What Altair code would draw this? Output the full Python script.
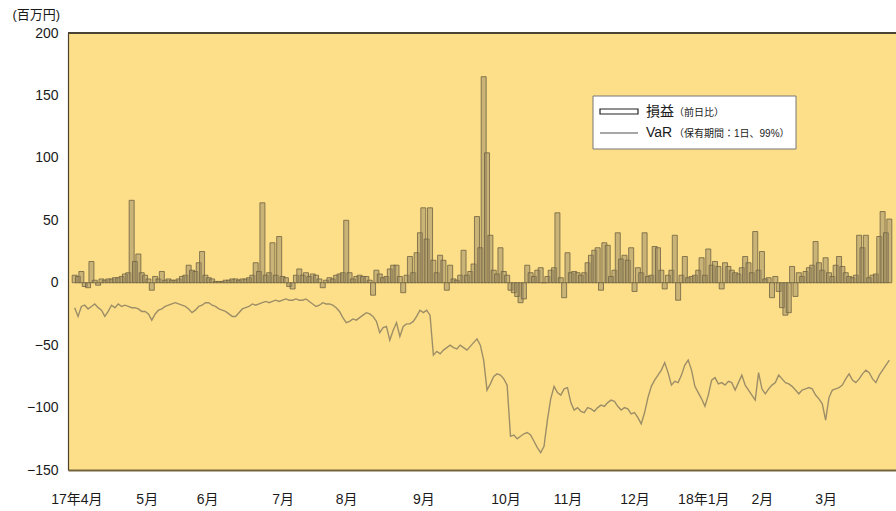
import altair as alt
import pandas as pd

# Daily trading P&L (前日比), million yen, FY2017 business days
pl = [
    6, 5, 9, -3, -4, 17, 2, -2, 3, 2,
    3, 3, 4, 4, 5, 7, 8, 66, 17, 23,
    8, 6, 3, -6, 5, 3, 9, 2, 3, 2,
    2, 3, 5, 6, 14, 10, 9, 16, 25, 6,
    4, 3, 1, 1, 1, 2, 2, 3, 3, 2,
    3, 3, 4, 6, 16, 9, 64, 6, 8, 32,
    6, 37, 5, 4, -3, -5, 6, 11, 6, 8,
    5, 7, 6, 3, -4, 2, 4, 3, 6, 7,
    8, 50, 8, 3, 5, 6, 5, 5, 2, -10,
    10, 7, 4, 5, 11, 14, 14, 5, -8, 6,
    21, 8, 24, 40, 60, 35, 60, 18, 8, 22,
    18, -6, 14, 3, 2, 6, 26, 6, 9, 15,
    53, 28, 165, 104, 38, 10, 7, 28, 9, 6,
    -6, -8, -11, -16, -13, 14, 8, 5, 10, 12,
    0, 5, 10, 12, 56, 4, -12, 24, 8, 9,
    8, 6, 8, 16, 22, 26, 28, -6, 32, 30,
    5, 10, 40, 19, 22, 18, 28, -7, 12, 8,
    40, 5, 6, 29, 28, 10, -5, 6, 10, 38,
    -14, 6, 21, 4, 5, 6, 10, 20, 6, 27,
    14, 17, 13, -5, 16, 13, 10, 8, 7, 12,
    21, 16, 8, 41, 10, 25, 3, 4, -12, 5,
    -7, -20, -26, -24, 13, -11, 8, 5, 9, 12,
    14, 33, 16, 10, 20, 8, 5, 14, 21, 13,
    8, 5, 4, 6, 38, 28, 38, 4, 6, 7,
    37, 57, 40, 51,
]

# VaR (holding period 1 day, 99%), million yen
var = [
    -20, -27, -19, -18, -21, -19, -17, -20, -22, -27,
    -23, -18, -20, -17, -19, -18, -19, -20, -20, -21,
    -23, -23, -25, -30, -25, -22, -21, -19, -18, -17,
    -16, -17, -18, -19, -21, -24, -22, -19, -18, -16,
    -16, -18, -19, -21, -22, -23, -25, -27, -27, -24,
    -21, -20, -19, -17, -18, -17, -16, -15, -16, -15,
    -14, -15, -14, -13, -14, -14, -13, -14, -14, -13,
    -15, -17, -19, -18, -16, -17, -17, -18, -20, -23,
    -28, -32, -31, -29, -30, -28, -26, -24, -25, -27,
    -31, -40, -36, -35, -46, -38, -32, -43, -35, -33,
    -33, -31, -27, -22, -24, -22, -26, -58, -55, -57,
    -54, -52, -50, -52, -53, -50, -52, -54, -51, -48,
    -45, -50, -62, -86, -81, -75, -73, -74, -77, -82,
    -123, -122, -125, -123, -121, -120, -122, -127, -132, -136,
    -131, -110, -93, -83, -88, -90, -85, -84, -96, -102,
    -100, -103, -104, -100, -101, -103, -100, -98, -99, -96,
    -94, -95, -99, -102, -100, -101, -105, -104, -108, -113,
    -104, -92, -83, -78, -74, -70, -64, -72, -82, -79,
    -80, -74, -66, -62, -70, -83, -88, -93, -99, -90,
    -78, -76, -81, -80, -82, -79, -80, -86, -80, -74,
    -82, -86, -90, -94, -72, -85, -89, -85, -82, -80,
    -74, -77, -80, -81, -83, -86, -89, -86, -85, -84,
    -85, -90, -93, -97, -110, -92, -86, -85, -84, -82,
    -77, -73, -78, -80, -77, -73, -70, -72, -77, -80,
    -74, -70, -66, -62,
]

# Month label positions along the business-day axis
month_pos = [0.5, 21.5, 39.5, 62, 81, 104, 128.5, 147, 167, 187.5, 205, 224]
month_labels = ["17年4月", "5月", "6月", "7月", "8月", "9月",
                "10月", "11月", "12月", "18年1月", "2月", "3月"]

y_ticks = [-150, -100, -50, 0, 50, 100, 150, 200]

FONT = "Liberation Sans, Noto Sans CJK JP, sans-serif"
BG = "#FDDF89"
BAR_FILL = "#9E8E66"
BAR_STROKE = "#6F6243"
LINE_COLOR = "#9D8E67"

df = pd.DataFrame({"day": list(range(len(pl))), "pl": pl, "var": var})

label_expr = ""
for pos, lab in zip(month_pos, month_labels):
    label_expr += f"datum.value == {pos} ? '{lab}' : "
label_expr += "''"

x_enc = alt.X(
    "day:Q",
    scale=alt.Scale(domain=[-0.5, 243.5], nice=False, zero=False),
    axis=alt.Axis(
        values=month_pos, labelExpr=label_expr, ticks=False, grid=False,
        title=None, labelPadding=22, labelFontSize=14, labelColor="#1a1a1a",
        labelFont=FONT, labelFlush=False, labelOverlap=False,
        domainColor="#76643F", domainWidth=1.8,
    ),
)

y_axis = alt.Axis(
    values=y_ticks, ticks=False, grid=False, title="(百万円)",
    titleAngle=0, titleX=-56, titleY=-19, titleAlign="left",
    titleBaseline="middle", titleFontSize=13, titleFontWeight="normal",
    titleFont=FONT, titleColor="#1a1a1a",
    labelPadding=10, labelFontSize=14, labelColor="#1a1a1a", labelFont=FONT,
    domainColor="#4B4232", domainWidth=1.2,
)
y_scale = alt.Scale(domain=[-150, 200], nice=False)

bars = alt.Chart(df).mark_bar(
    width=5, fill=BAR_FILL, fillOpacity=0.55, stroke=BAR_STROKE,
    strokeWidth=0.8, clip=True,
).encode(x=x_enc, y=alt.Y("pl:Q", scale=y_scale, axis=y_axis))

line = alt.Chart(df).mark_line(
    color=LINE_COLOR, strokeWidth=1.4, clip=True,
).encode(x=x_enc, y=alt.Y("var:Q", scale=y_scale, axis=y_axis))

# Frame line along the top of the plot area
top = alt.Chart(df).mark_rule(color="#4B4232", strokeWidth=1).encode(
    y=alt.datum(200), x=alt.value(0), x2=alt.value(828)
)

# Legend box, drawn as its own small layer
one = alt.Data(values=[{"k": 1}])
box = alt.Chart(one).mark_rect(fill="white", stroke="#777777", strokeWidth=1).encode(
    x=alt.value(525), x2=alt.value(728), y=alt.value(63), y2=alt.value(116)
)
sym_bar = alt.Chart(one).mark_rect(fill="white", stroke="#222222", strokeWidth=1.2).encode(
    x=alt.value(532), x2=alt.value(570), y=alt.value(76), y2=alt.value(81)
)
sym_line = alt.Chart(one).mark_rule(color="#8A8A8A", strokeWidth=1.3).encode(
    x=alt.value(532), x2=alt.value(570), y=alt.value(100)
)
lab1 = alt.Chart(one).mark_text(
    text="損益", align="left", baseline="middle", fontSize=14, font=FONT, color="#1a1a1a"
).encode(x=alt.value(578), y=alt.value(79))
lab1s = alt.Chart(one).mark_text(
    text="（前日比）", align="left", baseline="middle", fontSize=10, font=FONT, color="#1a1a1a"
).encode(x=alt.value(606), y=alt.value(80))
lab2 = alt.Chart(one).mark_text(
    text="VaR", align="left", baseline="middle", fontSize=14, font=FONT, color="#1a1a1a"
).encode(x=alt.value(578), y=alt.value(100))
lab2s = alt.Chart(one).mark_text(
    text="（保有期間：1日、99%）", align="left", baseline="middle", fontSize=10, font=FONT,
    color="#1a1a1a",
).encode(x=alt.value(606), y=alt.value(101))

chart = alt.layer(
    bars, line, top, box, sym_bar, sym_line, lab1, lab1s, lab2, lab2s
).properties(
    width=828, height=437,
    autosize=alt.AutoSizeParams(type="none"),
    padding={"left": 68, "top": 33, "right": 0, "bottom": 41},
    background="white",
).configure_view(
    fill=BG, stroke=None
)

chart.save("out.html", embed_options={"renderer": "svg", "actions": False})
